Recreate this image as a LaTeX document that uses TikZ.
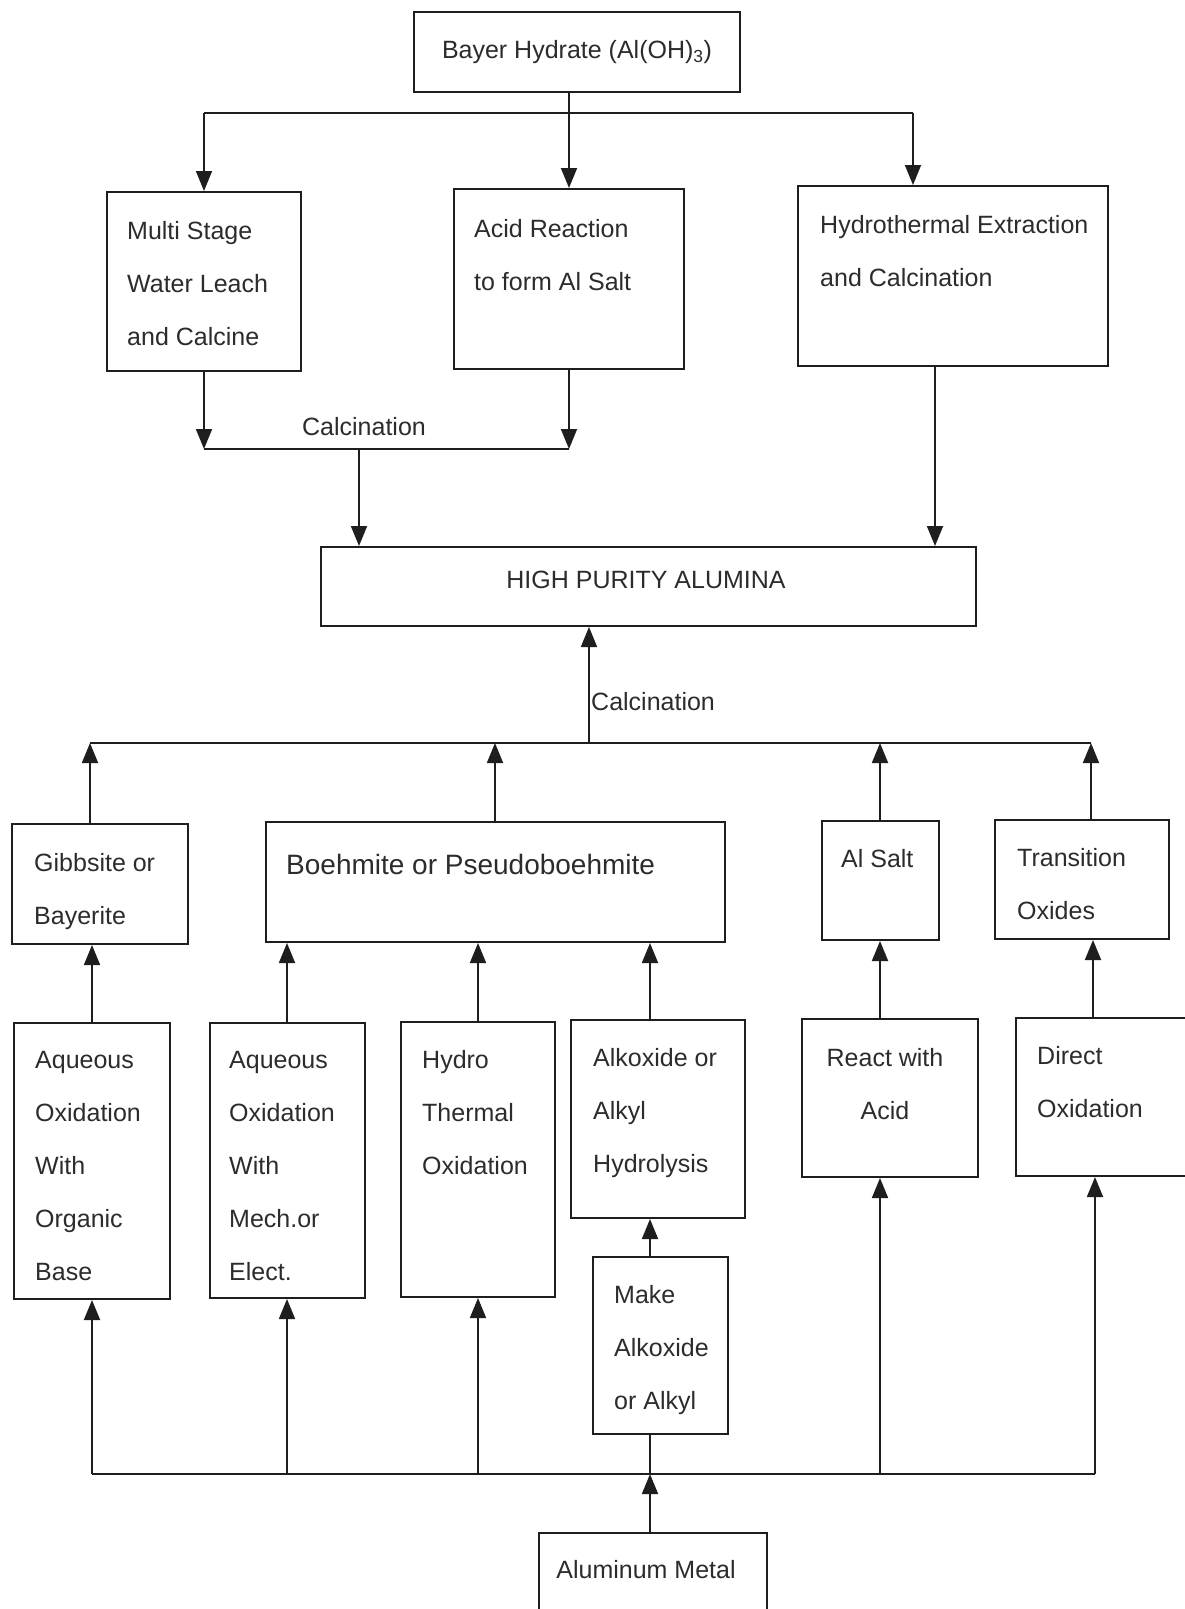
\documentclass[tikz,border=0pt]{standalone}
\usepackage{fontspec}
\setmainfont{Liberation Sans}
\usetikzlibrary{arrows.meta}
\definecolor{linec}{HTML}{1E1E1E}
\definecolor{textc}{HTML}{2C2C2C}
\begin{document}
\begin{tikzpicture}[x=1pt,y=-1pt,
  box/.style={draw=linec, line width=2pt, rectangle, inner sep=0pt, text=textc, font=\fontsize{25}{53}\selectfont},
  txt/.style={anchor=north west, align=left, inner sep=0pt, text=textc, font=\fontsize{25}{53}\selectfont},
  lbl/.style={inner sep=0pt, text=textc, font=\fontsize{25}{30}\selectfont},
  arr/.style={draw=linec, line width=1.8pt, -{Triangle[length=20pt,width=16pt]}},
  ln/.style={draw=linec, line width=1.8pt}]
\useasboundingbox[fill=white] (0,0) rectangle (1184,1609);

% ---- boxes ----
\node[box, minimum width=326pt, minimum height=80pt] (bayer) at (577,52) {Bayer Hydrate (Al(OH)\textsubscript{3})};
\node[box, minimum width=194pt, minimum height=179pt] (ms) at (204,281.5) {};
\node[box, minimum width=230pt, minimum height=180pt] (acid) at (569,279) {};
\node[box, minimum width=310pt, minimum height=180pt] (hyd) at (953,276) {};
\node[box, minimum width=655pt, minimum height=79pt] (hpa) at (648.5,586.5) {};
\node[box, minimum width=176pt, minimum height=120pt] (gib) at (100,884) {};
\node[box, minimum width=459pt, minimum height=120pt] (boe) at (495,882) {};
\node[box, minimum width=117pt, minimum height=119pt] (als) at (880,880.5) {};
\node[box, minimum width=174pt, minimum height=119pt] (tra) at (1082,879.5) {};
\node[box, minimum width=156pt, minimum height=276pt] (aq1) at (92,1161) {};
\node[box, minimum width=155pt, minimum height=275pt] (aq2) at (287,1160.5) {};
\node[box, minimum width=154pt, minimum height=275pt] (ht) at (478,1159.5) {};
\node[box, minimum width=174pt, minimum height=198pt] (alk) at (658,1119) {};
\node[box, minimum width=176pt, minimum height=158pt] (rwa) at (890,1098) {};
\node[box, minimum width=184pt, minimum height=158pt] (dox) at (1108,1097) {};
\node[box, minimum width=135pt, minimum height=177pt] (mak) at (660.5,1345.5) {};
\node[box, minimum width=228pt, minimum height=97pt] (alm) at (653,1581.5) {};

% ---- texts ----
\node[lbl] (thpa) at (646,580) {HIGH PURITY ALUMINA};
\node[txt] (tms) at (127,221) {Multi Stage\\Water Leach\\and Calcine};
\node[txt] (tacid) at (474,219) {Acid Reaction\\to form Al Salt};
\node[txt] (thyd) at (820,215) {Hydrothermal Extraction\\and Calcination};
\node[txt] (tgib) at (34,853) {Gibbsite or\\Bayerite};
\node[txt, font=\fontsize{28}{53}\selectfont] (tboe) at (286,854) {Boehmite or Pseudoboehmite};
\node[txt] (tals) at (841,849) {Al Salt};
\node[txt] (ttra) at (1017,848) {Transition\\Oxides};
\node[txt] (taq1) at (35,1051) {Aqueous\\Oxidation\\With\\Organic\\Base};
\node[txt] (taq2) at (229,1051) {Aqueous\\Oxidation\\With\\Mech.or\\Elect.};
\node[txt] (tht) at (422,1050) {Hydro\\Thermal\\Oxidation};
\node[txt] (talk) at (593,1048) {Alkoxide or\\Alkyl\\Hydrolysis};
\node[txt, anchor=north, align=center] (trwa) at (885,1048) {React with\\Acid};
\node[txt] (tdox) at (1037,1046) {Direct\\Oxidation};
\node[txt] (tmak) at (614,1285) {Make\\Alkoxide\\or Alkyl};
\node[lbl] (talm) at (646,1570) {Aluminum Metal};

% ---- top distribution ----
\coordinate (tl) at (204,113);
\coordinate (tr) at (913,113);
\draw[ln] (tl) -- (tr);
\draw[arr] (bayer.south -| acid.north) -- (acid.north);
\draw[arr] (tl) -- (ms.north);
\draw[arr] (tr) -- (tr |- hyd.north);

% ---- first calcination ----
\coordinate (c1) at (204,449);
\coordinate (c2) at (569,449);
\coordinate (c3) at (359,449);
\draw[arr] (ms.south) -- (c1);
\draw[arr] (acid.south) -- (c2);
\draw[ln] (c1) -- (c2);
\draw[arr] (c3) -- (c3 |- hpa.north);
\node[lbl] (calc1) at (364,427) {Calcination};
\coordinate (hx) at (935,0);
\draw[arr] (hyd.south -| hx) -- (hpa.north -| hx);

% ---- second calcination ----
\coordinate (m1) at (589,743);
\draw[arr] (m1) -- (hpa.south -| m1);
\node[lbl, anchor=west] (calc2) at (591,702) {Calcination};
\coordinate (b1) at (90,743);
\coordinate (b2) at (1091,743);
\draw[ln] (b1) -- (b2);
\draw[arr] (gib.north -| b1) -- (b1);
\draw[arr] (boe.north) -- (boe.north |- b1);
\draw[arr] (als.north) -- (als.north |- b1);
\draw[arr] (tra.north -| b2) -- (b2);

% ---- row 3 to row 2 ----
\coordinate (xk) at (650,0);
\coordinate (xr) at (880,0);
\coordinate (xd) at (1093,0);
\draw[arr] (aq1.north) -- (aq1.north |- gib.south);
\draw[arr] (aq2.north) -- (aq2.north |- boe.south);
\draw[arr] (ht.north) -- (ht.north |- boe.south);
\draw[arr] (alk.north -| xk) -- (boe.south -| xk);
\draw[arr] (mak.north -| xk) -- (alk.south -| xk);
\draw[arr] (rwa.north -| xr) -- (als.south -| xr);
\draw[arr] (dox.north -| xd) -- (tra.south -| xd);

% ---- bottom distribution ----
\coordinate (d1) at (92,1474);
\coordinate (d2) at (1095,1474);
\draw[ln] (d1) -- (d2);
\draw[arr] (d1) -- (aq1.south);
\draw[arr] (aq2.south |- d1) -- (aq2.south);
\draw[arr] (ht.south |- d1) -- (ht.south);
\draw[ln] (xk |- d1) -- (mak.south -| xk);
\draw[arr] (alm.north -| xk) -- (xk |- d1);
\draw[arr] (xr |- d1) -- (rwa.south -| xr);
\draw[arr] (d2) -- (dox.south -| d2);
\end{tikzpicture}
\end{document}
